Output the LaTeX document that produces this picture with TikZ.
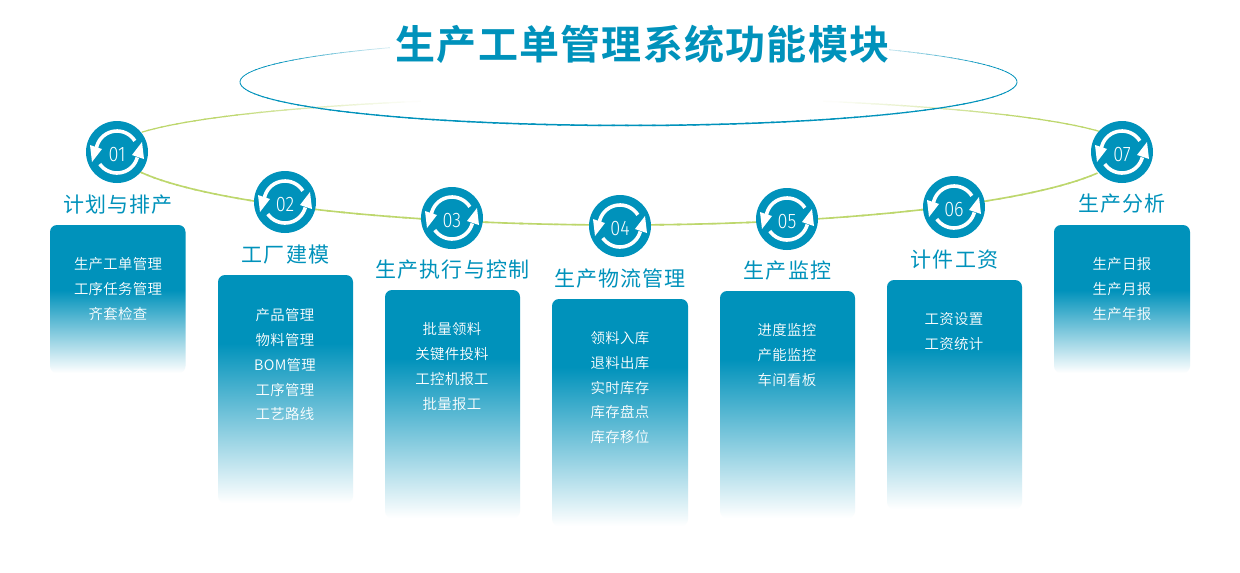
\documentclass[tikz,border=0pt]{standalone}
\usepackage{fontspec}
\setmainfont{Noto Sans CJK SC}
\newfontfamily\titlefont[LetterSpace=3.2]{Noto Sans CJK SC Bold}
\newfontfamily\headfont[LetterSpace=5.2]{Noto Sans CJK SC}
\newfontfamily\itemfont[LetterSpace=2.2]{Noto Sans CJK SC DemiLight}
\newfontfamily\numfont[FakeStretch=0.86]{Fira Sans Light}
\definecolor{tealblue}{HTML}{0092BB}
\definecolor{lime}{HTML}{BDD76C}
\pgfdeclareverticalshading{cardfade}{100bp}{color(0bp)=(white);color(25bp)=(white);color(60bp)=(tealblue);color(75bp)=(tealblue);color(100bp)=(tealblue)}
\pgfdeclareverticalshading{cardfadeshort}{100bp}{color(0bp)=(white);color(25bp)=(white);color(53bp)=(tealblue);color(75bp)=(tealblue);color(100bp)=(tealblue)}
\tikzset{
 x=1pt,y=-1pt,
 cardbox/.style={rounded corners=7pt,shading=cardfade,draw=none},
 cardshort/.style={rounded corners=7pt,shading=cardfadeshort,draw=none},
 headlabel/.style={font=\headfont\fontsize{21}{25}\selectfont,text=tealblue,anchor=center,inner sep=0pt},
 itemlabel/.style={font=\itemfont\fontsize{14.4}{17}\selectfont,text=white,anchor=center,inner sep=0pt},
 numlabel/.style={font=\numfont\fontsize{21}{24}\selectfont,text=white,anchor=center,inner sep=0pt},
 badge/.style={circle,fill=tealblue,minimum size=62pt,inner sep=0pt,draw=none},
 titlelabel/.style={font=\titlefont\fontsize{40}{46}\selectfont,text=tealblue,anchor=center,inner sep=0pt},
}
% ring icon: two white arc arrows
\newcommand{\ringicon}[3]{%
 \node[badge] (c#3) at (#1,#2) {};
 \begin{scope}[shift={(#1,#2)}]
  \draw[white,line width=3.6pt] plot[smooth,domain=-32:-170,samples=18] ({21*cos(\x)},{21*sin(\x)});
  \draw[white,line width=3.6pt] plot[smooth,domain=145:15,samples=18] ({21*cos(\x)},{21*sin(\x)});
  \fill[white] (-27,-7) -- (-15,-3) -- (-25,10) -- cycle;
  \fill[white] (27,7) -- (15,3) -- (25,-10) -- cycle;
 \end{scope}
 \node[numlabel] (n#3) at (#1,#2+3) {#3};
}
\newcommand{\card}[8]{% id, x, width, ytop, ybottom, style, heading, heading y
 \path[#6] (#2,#4) rectangle (#2+#3,#5);
 \node[headlabel] (h#1) at (#2+#3/2,#8) {#7};
}
\newcommand{\itemat}[3]{\node[itemlabel] at (#1,#2+1) {#3};}
\begin{document}
\begin{tikzpicture}
\useasboundingbox (0,0) rectangle (1240,573);
\fill[white] (0,0) rectangle (1240,573);
% lime orbit: bottom
\foreach \t in {0,2,...,142}{
 \draw[lime,line width=1.6pt] ({620+505*cos(19+\t)},{148+77*sin(19+\t)}) -- ({620+505*cos(21.5+\t)},{148+77*sin(21.5+\t)});
}
% lime orbit: top, fading towards the middle
\foreach \t in {0,2,...,46}{
 \pgfmathsetmacro{\mixv}{max(0,min(100,(47-\t)*3.6))}
 \draw[lime!\mixv!white,line width=1.2pt] ({622+505*cos(198+\t)},{148+51*sin(198+\t)}) -- ({622+505*cos(200.5+\t)},{148+51*sin(200.5+\t)});
 \draw[lime!\mixv!white,line width=1.2pt] ({622+505*cos(342-\t)},{148+51*sin(342-\t)}) -- ({622+505*cos(339.5-\t)},{148+51*sin(339.5-\t)});
}
% blue ellipse
\foreach \t in {0,2,...,358}{
 \pgfmathsetmacro{\aa}{abs(\t-270)}
 \pgfmathsetmacro{\mixv}{\t>180 ? min(100,max(0,(\aa-40)*3.2+20)) : 100}
 \pgfmathsetmacro{\lw}{0.7+0.8*max(0,sin(\t))}
 \draw[tealblue!\mixv!white,line width=\lw pt] ({628.5+388.5*cos(\t)},{82+43.5*sin(\t)}) -- ({628.5+388.5*cos(\t+2.5)},{82+43.5*sin(\t+2.5)});
}
% white gap behind the title
\fill[white] (390,20) rectangle (889,75);
\node[titlelabel] (title) at (642.5,44) {生产工单管理系统功能模块};
% cards
\card{1}{50}{135.5}{225}{373}{cardshort}{计划与排产}{205}
\card{2}{218}{135}{275}{503}{cardbox}{工厂建模}{255}
\card{3}{385}{135}{290}{518}{cardbox}{生产执行与控制}{270}
\card{4}{552}{136}{299}{526}{cardbox}{生产物流管理}{279}
\card{5}{720}{135}{291}{518}{cardbox}{生产监控}{271}
\card{6}{887}{135}{280}{509}{cardbox}{计件工资}{260}
\card{7}{1054}{136}{225}{373}{cardshort}{生产分析}{204}
% badges
\ringicon{117}{152}{01}
\ringicon{285}{202}{02}
\ringicon{452}{218}{03}
\ringicon{620}{226}{04}
\ringicon{787}{219}{05}
\ringicon{954}{207}{06}
\ringicon{1122}{152}{07}
% items
\itemat{118}{263}{生产工单管理}\itemat{118}{288}{工序任务管理}\itemat{118}{313}{齐套检查}
\itemat{285}{314}{产品管理}\itemat{285}{339}{物料管理}\itemat{285}{364}{BOM管理}\itemat{285}{389}{工序管理}\itemat{285}{413}{工艺路线}
\itemat{452}{328}{批量领料}\itemat{452}{353}{关键件投料}\itemat{452}{378}{工控机报工}\itemat{452}{403}{批量报工}
\itemat{620}{337}{领料入库}\itemat{620}{362}{退料出库}\itemat{620}{387}{实时库存}\itemat{620}{411}{库存盘点}\itemat{620}{436}{库存移位}
\itemat{787}{329}{进度监控}\itemat{787}{354}{产能监控}\itemat{787}{379}{车间看板}
\itemat{954}{318}{工资设置}\itemat{954}{343}{工资统计}
\itemat{1122}{263}{生产日报}\itemat{1122}{288}{生产月报}\itemat{1122}{313}{生产年报}
\end{tikzpicture}
\end{document}
